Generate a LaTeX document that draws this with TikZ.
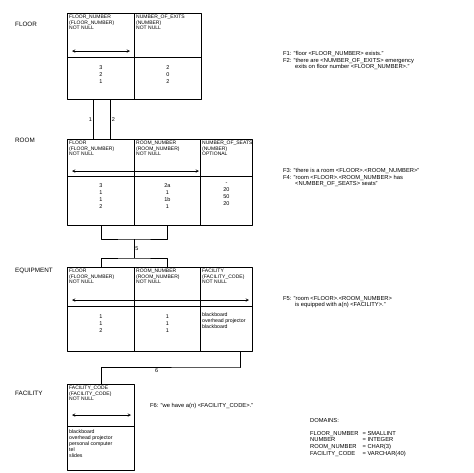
\documentclass[tikz,border=0pt]{standalone}
\usepackage{fontspec}
\setmainfont{Liberation Sans}
\usetikzlibrary{positioning}
\tikzset{
  cell/.style={draw, line width=0.9pt, anchor=north west, inner sep=0pt},
  htext/.style={anchor=north west, align=left, inner sep=2pt, font=\fontsize{5}{5.6}\selectfont},
  dtext/.style={anchor=north, align=center, inner sep=0pt, font=\fontsize{5.5}{7}\selectfont},
  ltext/.style={anchor=north west, align=left, inner sep=2pt, font=\fontsize{5.2}{5.8}\selectfont},
  tname/.style={anchor=north west, inner sep=0pt, font=\fontsize{6.3}{7}\selectfont},
  fact/.style={anchor=north west, align=left, inner sep=0pt, font=\fontsize{5.8}{6.6}\selectfont},
  keyarrow/.style={<->, >=stealth, line width=0.5pt},
  link/.style={line width=0.9pt},
  rolenum/.style={inner sep=1pt, font=\fontsize{5.5}{6}\selectfont},
}
\begin{document}
\begin{tikzpicture}[x=1pt,y=-1pt,line join=round]
\useasboundingbox[fill=white] (0,0) rectangle (474,472);

% FLOOR
\node[tname] (tfloor) at (15,22) {FLOOR};
\node[cell, minimum width=67pt, minimum height=44pt] (fh1) at (67,13) {};
\node[cell, minimum width=67pt, minimum height=44pt] (fh2) at (134,13) {};
\node[cell, minimum width=67pt, minimum height=42pt] (fd1) at (67,57) {};
\node[cell, minimum width=67pt, minimum height=42pt] (fd2) at (134,57) {};
\node[htext] at (fh1.north west) {FLOOR\_NUMBER\\(FLOOR\_NUMBER)\\NOT NULL};
\node[htext] at (fh2.north west) {NUMBER\_OF\_EXITS\\(NUMBER)\\NOT NULL};
\coordinate (fa1) at (72,51);
\coordinate (fa2) at (130,51);
\draw[keyarrow] (fa1) -- (fa2);
\node[dtext, below=8pt of fd1.north] {3\\2\\1};
\node[dtext, below=8pt of fd2.north] {2\\0\\2};
\node[fact] (f12) at (283,51) {F1: "floor <FLOOR\_NUMBER> exists."\\
  F2: "there are <NUMBER\_OF\_EXITS> emergency\\
  \hspace*{12pt}exits on floor number <FLOOR\_NUMBER>."};

% ROOM
\node[tname] (troom) at (15,138) {ROOM};
\node[cell, minimum width=67pt, minimum height=37pt] (rh1) at (67,139) {};
\node[cell, minimum width=66pt, minimum height=37pt] (rh2) at (134,139) {};
\node[cell, minimum width=52pt, minimum height=37pt] (rh3) at (200,139) {};
\node[cell, minimum width=67pt, minimum height=49pt] (rd1) at (67,176) {};
\node[cell, minimum width=66pt, minimum height=49pt] (rd2) at (134,176) {};
\node[cell, minimum width=52pt, minimum height=49pt] (rd3) at (200,176) {};
\node[htext] at (rh1.north west) {FLOOR\\(FLOOR\_NUMBER)\\NOT NULL};
\node[htext] at (rh2.north west) {ROOM\_NUMBER\\(ROOM\_NUMBER)\\NOT NULL};
\node[htext] at (rh3.north west) {NUMBER\_OF\_SEATS\\(NUMBER)\\OPTIONAL};
\coordinate (ra1) at (72,171);
\coordinate (ra2) at (199,171);
\draw[keyarrow] (ra1) -- (ra2);
\node[dtext, below=7pt of rd1.north] {3\\1\\1\\2};
\node[dtext, below=7pt of rd2.north] {2a\\1\\1b\\1};
\node[dtext, below=7pt of rd3.north] {-\\20\\50\\20};
\node[fact] (f34) at (283,168) {F3: "there is a room <FLOOR>.<ROOM\_NUMBER>"\\
  F4: "room <FLOOR>.<ROOM\_NUMBER> has\\
  \hspace*{12pt}<NUMBER\_OF\_SEATS> seats"};

% FLOOR -> ROOM
\draw[link] ([xshift=-7.5]fd1.south) -- node[rolenum, left] {1} ([xshift=-7.5]rh1.north);
\draw[link] ([xshift=9.5]fd1.south) -- node[rolenum, right] {2} ([xshift=9.5]rh1.north);

% EQUIPMENT
\node[tname] (tequip) at (15,268) {EQUIPMENT};
\node[cell, minimum width=67pt, minimum height=39pt] (eh1) at (67,267) {};
\node[cell, minimum width=66pt, minimum height=39pt] (eh2) at (134,267) {};
\node[cell, minimum width=52pt, minimum height=39pt] (eh3) at (200,267) {};
\node[cell, minimum width=67pt, minimum height=45pt] (ed1) at (67,306) {};
\node[cell, minimum width=66pt, minimum height=45pt] (ed2) at (134,306) {};
\node[cell, minimum width=52pt, minimum height=45pt] (ed3) at (200,306) {};
\node[htext] at (eh1.north west) {FLOOR\\(FLOOR\_NUMBER)\\NOT NULL};
\node[htext] at (eh2.north west) {ROOM\_NUMBER\\(ROOM\_NUMBER)\\NOT NULL};
\node[htext] at (eh3.north west) {FACILITY\\(FACILITY\_CODE)\\NOT NULL};
\coordinate (ea1) at (72,300);
\coordinate (ea2) at (249,300);
\draw[keyarrow] (ea1) -- (ea2);
\node[dtext, below=9pt of ed1.north] {1\\1\\2};
\node[dtext, below=9pt of ed2.north] {1\\1\\1};
\node[ltext, below right=5pt and 0pt of ed3.north west, anchor=north west] {blackboard\\overhead projector\\blackboard};
\node[fact] (f5) at (283,296) {F5: "room <FLOOR>.<ROOM\_NUMBER>\\
  \hspace*{12pt}is equipped with a(n) <FACILITY>."};

% ROOM -> EQUIPMENT
\coordinate (rj) at (134,239);
\coordinate (ej) at (134,258);
\draw[link] (rd1.south) |- (rj) -| (rd2.south);
\draw[link] (rj) -- node[rolenum, right] {5} (ej);
\draw[link] (eh1.north) |- (ej) -| (eh2.north);

% FACILITY
\node[tname] (tfac) at (15,391) {FACILITY};
\node[cell, minimum width=67pt, minimum height=42pt] (ch1) at (67,384) {};
\node[cell, minimum width=67pt, minimum height=44pt] (cd1) at (67,426) {};
\node[htext] at (ch1.north west) {FACILITY\_CODE\\(FACILITY\_CODE)\\NOT NULL};
\coordinate (ca1) at (72,415);
\coordinate (ca2) at (131,415);
\draw[keyarrow] (ca1) -- (ca2);
\node[ltext, below right=2pt and 0pt of cd1.north west, anchor=north west] {blackboard\\overhead projector\\personal computer\\tel\\slides};
\node[fact] (f6) at (150,403) {F6: "we have a(n) <FACILITY\_CODE>."};

% EQUIPMENT -> FACILITY
\coordinate (cj) at (240,367);
\draw[link] ([xshift=14]ed3.south) |- (cj) -| node[rolenum, below, pos=0.3] {6} (ch1.north);

% domains
\node[fact] (dom) at (310,418) {DOMAINS:};
\node[fact, below=8pt of dom.south west, anchor=north west] (domtab) {%
  \begin{tabular}{@{}l@{\hspace{4pt}}l@{}}
  FLOOR\_NUMBER & = SMALLINT\\
  NUMBER & = INTEGER\\
  ROOM\_NUMBER & = CHAR(3)\\
  FACILITY\_CODE & = VARCHAR(40)
  \end{tabular}};
\end{tikzpicture}
\end{document}
